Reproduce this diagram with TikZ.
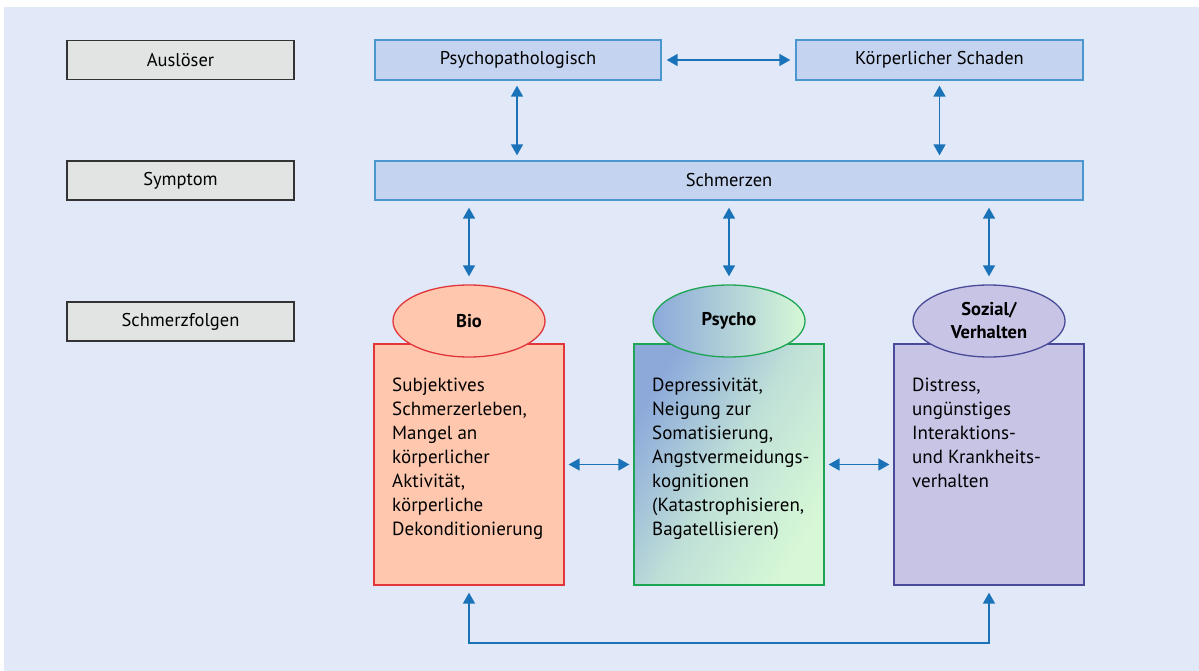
\documentclass[tikz,border=0pt]{standalone}
\usepackage{fontspec}
\setmainfont{PT Sans}
\usetikzlibrary{arrows.meta,shapes.geometric}
\definecolor{bgc}{HTML}{E1E8F7}
\definecolor{greyfill}{HTML}{E2E3E3}
\definecolor{greyline}{HTML}{333333}
\definecolor{bluefill}{HTML}{C3D3F0}
\definecolor{blueline}{HTML}{4B96CC}
\definecolor{arrc}{HTML}{1A73B8}
\definecolor{biofill}{HTML}{FFC8AE}
\definecolor{bioline}{HTML}{E2363B}
\definecolor{psyblue}{HTML}{8CA9DA}
\definecolor{psygreen}{HTML}{D6F8D6}
\definecolor{psyline}{HTML}{1EA553}
\definecolor{sozfill}{HTML}{C8C4E6}
\definecolor{sozline}{HTML}{4A4B98}
\tikzset{
  lbl/.style={font=\fontsize{18.5}{21}\selectfont},
  greybox/.style={draw=greyline, fill=greyfill, line width=1.3pt, minimum width=227pt, minimum height=39pt, inner sep=0pt, lbl},
  bluebox/.style={draw=blueline, fill=bluefill, line width=1.3pt, minimum height=39pt, inner sep=0pt, lbl},
  colbox/.style={line width=1.3pt, minimum width=190pt, minimum height=241pt, inner sep=0pt},
  head/.style={ellipse, line width=1.3pt, minimum width=152pt, minimum height=72pt, inner sep=0pt, align=center, font=\fontsize{18.5}{23}\selectfont\bfseries},
  body/.style={anchor=north west, inner sep=0pt, align=left, font=\fontsize{19}{24}\selectfont},
  arr/.style={{Triangle[width=12pt,length=11pt]}-{Triangle[width=12pt,length=11pt]}, draw=arrc, line width=1.6pt}
}
\begin{document}
\begin{tikzpicture}[x=1pt,y=-1pt]
\useasboundingbox (0,0) rectangle (1199,671);
\fill[bgc] (4,7) rectangle (1199,671);
% left labels
\node[greybox] (aus) at (180.5,60) {Auslöser};
\node[greybox] (sym) at (180.5,180.5) {Symptom};
\node[greybox] (folg) at (180.5,321.5) {Schmerzfolgen};
% top boxes
\node[bluebox, minimum width=286pt, minimum height=40pt] (psy) at (518,60) {Psychopathologisch};
\node[bluebox, minimum width=287pt, minimum height=40pt] (koe) at (939.5,60) {Körperlicher Schaden};
\node[bluebox, minimum width=708pt] (schm) at (729,180.5) {Schmerzen};
% columns
\node[colbox, draw=bioline, fill=biofill] (bio) at (469,464.5) {};
\node[colbox, draw=psyline, left color=psyblue, right color=psygreen, middle color=psygreen!70!psyblue, shading angle=60] (psr) at (729,464.5) {};
\node[colbox, draw=sozline, fill=sozfill] (soz) at (989,464.5) {};
\node[head, draw=bioline, fill=biofill] (bioh) at (469,321) {Bio};
\node[head, draw=psyline, left color=psyblue, right color=psygreen] (psyh) at (729,321) {Psycho};
\node[head, draw=sozline, fill=sozfill] (sozh) at (989,321) {Sozial/\\Verhalten};
% body texts
\node[body] (biot) at (392,378) {Subjektives\\Schmerzerleben,\\Mangel an\\körperlicher\\Aktivität,\\körperliche\\Dekonditionierung};
\node[body] (psyt) at (652,378) {Depressivität,\\Neigung zur\\Somatisierung,\\Angstvermeidungs-\\kognitionen\\(Katastrophisieren,\\Bagatellisieren)};
\node[body] (sozt) at (912,378) {Distress,\\ungünstiges\\Interaktions-\\und Krankheits-\\verhalten};
% arrows
\draw[arr, shorten <=5pt, shorten >=5pt] (psy.east) -- (koe.west);
\draw[arr, shorten <=5pt, shorten >=5pt] (psy.south -| 517,0) -- (schm.north -| 517,0);
\draw[arr, shorten <=5pt, shorten >=5pt] (koe.south) -- (schm.north -| koe.south);
\draw[arr, shorten <=7pt, shorten >=8pt] (schm.south -| bioh.north) -- (bioh.north);
\draw[arr, shorten <=7pt, shorten >=8pt] (schm.south -| psyh.north) -- (psyh.north);
\draw[arr, shorten <=7pt, shorten >=8pt] (schm.south -| sozh.north) -- (sozh.north);
\draw[arr, shorten <=4pt, shorten >=4pt] (bio.east) -- (psr.west);
\draw[arr, shorten <=4pt, shorten >=4pt] (psr.east) -- (soz.west);
\coordinate (b1) at (469,643);
\coordinate (b2) at (989,643);
\draw[arr, shorten <=7pt, shorten >=7pt] (bio.south) -- (b1) -- (b2) -- (soz.south);
\end{tikzpicture}
\end{document}
